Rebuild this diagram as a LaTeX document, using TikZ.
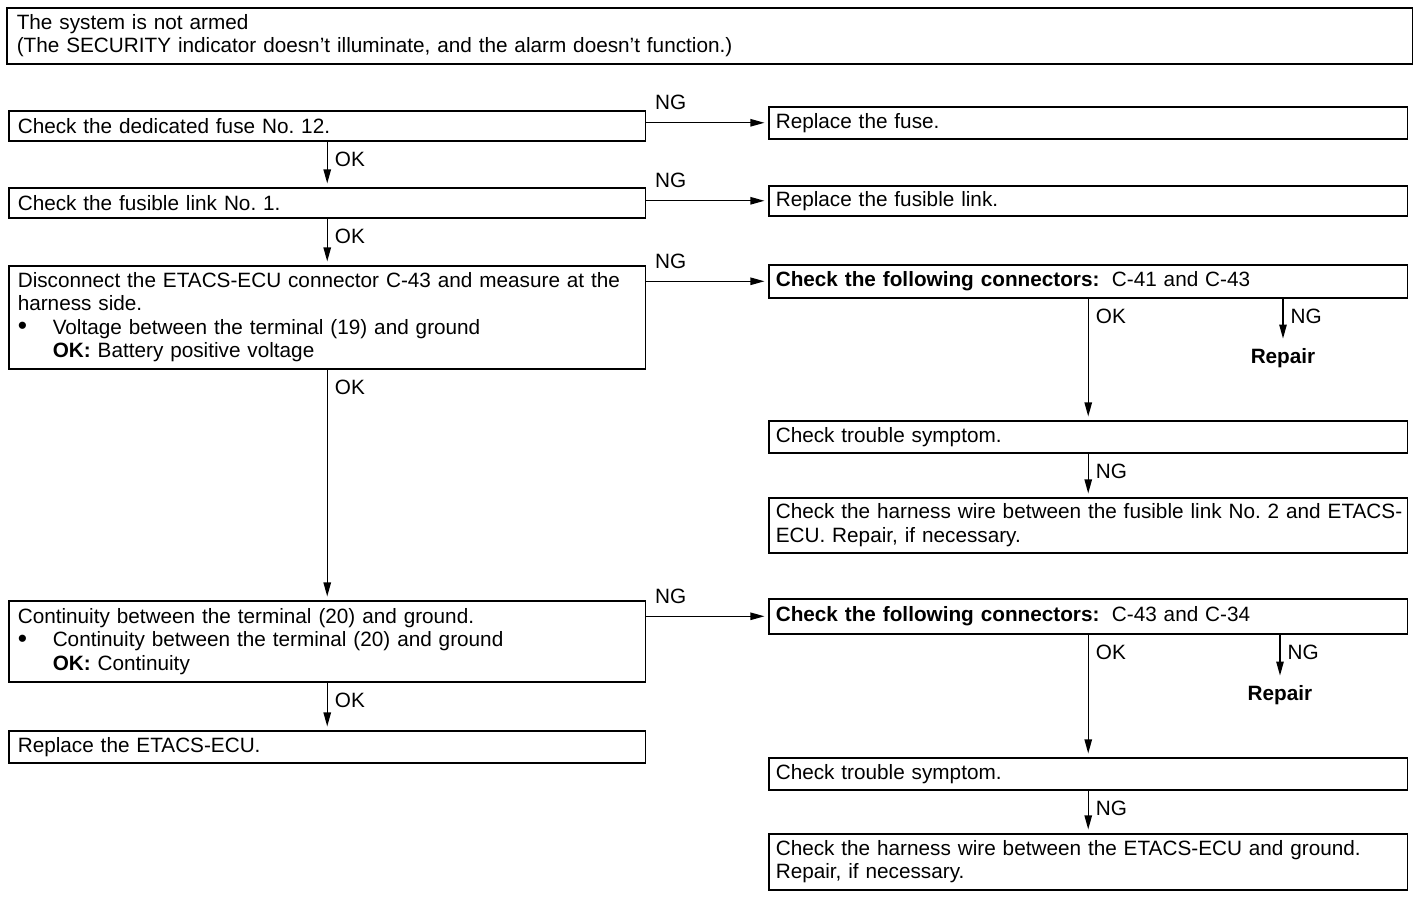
\documentclass[tikz,border=0pt]{standalone}
\usepackage{fontspec}
\setmainfont{Liberation Sans}
\usetikzlibrary{arrows.meta}
\newcommand{\diagfont}{\fontsize{11.8pt}{13.4pt}\selectfont\frenchspacing}
\newcommand{\chkbullet}{\makebox[0.7cm][l]{\raisebox{-0.3pt}{\fontsize{15pt}{13.4pt}\selectfont\textbullet}}}
\newcommand{\chkindent}{\hspace*{0.7cm}}
\tikzstyle{title} = [rectangle, draw=black, line width=0.9pt, text width=27.72cm, inner xsep=0.2cm, inner ysep=0pt, minimum height=1.12cm, align=left, anchor=north west]
\tikzstyle{process} = [rectangle, draw=black, line width=0.9pt, text width=12.38cm, inner xsep=0.18cm, inner ysep=0pt, align=left, anchor=north west]
\tikzstyle{action} = [process, text width=12.5cm, inner xsep=0.14cm]
\tikzstyle{result} = [font=\diagfont\bfseries]
\tikzstyle{arrow} = [line width=0.8pt, -{Triangle[length=8pt,width=4.2pt]}, shorten >=2pt]
\tikzstyle{oklabel} = [pos=0, anchor=north west, inner sep=3pt, xshift=1pt, yshift=-2.5pt]
\tikzstyle{nglabel} = [pos=0, anchor=south west, inner sep=3pt, xshift=1.5pt, yshift=4pt]

\begin{document}
\begin{tikzpicture}[x=0.02cm, y=-0.02cm, font=\diagfont]
\useasboundingbox (0,0) rectangle (1424,898);

\node (start) [title] at (6,7) {The system is not armed\\(The SECURITY indicator doesn't illuminate, and the alarm doesn't function.)};

% left column
\node (pro1) [process, minimum height=0.6cm] at (8,110) {Check the dedicated fuse No. 12.};
\node (pro2) [process, minimum height=0.6cm] at (8,187) {Check the fusible link No. 1.};
\node (pro3) [process, minimum height=2.06cm] at (8,265) {Disconnect the ETACS-ECU connector C-43 and measure at the\\harness side.\\\chkbullet Voltage between the terminal (19) and ground\\\chkindent\textbf{OK:} Battery positive voltage};
\node (pro4) [process, minimum height=1.62cm] at (8,600) {Continuity between the terminal (20) and ground.\\\chkbullet Continuity between the terminal (20) and ground\\\chkindent\textbf{OK:} Continuity};
\node (pro5) [process, minimum height=0.64cm] at (8,730) {Replace the ETACS-ECU.};

% right column
\node (rep1) [action, minimum height=0.64cm] at (768,106) {Replace the fuse.};
\node (rep2) [action, minimum height=0.6cm] at (768,185) {Replace the fusible link.};
\node (chk1) [action, minimum height=0.66cm] at (768,264) {\textbf{Check the following connectors:}\hspace{0.6em}C-41 and C-43};
\node (fix1) [result] at (1283,358) {Repair};
\node (sym1) [action, minimum height=0.64cm] at (768,420) {Check trouble symptom.};
\node (har1) [action, minimum height=1.1cm] at (768,497) {\mbox{Check the harness wire between the fusible link No. 2 and ETACS-}\\ECU. Repair, if necessary.};
\node (chk2) [action, minimum height=0.7cm] at (768,598) {\textbf{Check the following connectors:}\hspace{0.6em}C-43 and C-34};
\node (fix2) [result] at (1280,695) {Repair};
\node (sym2) [action, minimum height=0.64cm] at (768,757) {Check trouble symptom.};
\node (har2) [action, minimum height=1.12cm] at (768,833) {Check the harness wire between the ETACS-ECU and ground.\\Repair, if necessary.};

\draw [arrow] (pro1.south) -- node[oklabel] {OK} (pro2.north);
\draw [arrow] (pro2.south) -- node[oklabel] {OK} (pro3.north);
\draw [arrow] (pro3.south) -- node[oklabel] {OK} (pro4.north);
\draw [arrow] (pro4.south) -- node[oklabel] {OK} (pro5.north);

\draw [arrow] (pro1.east |- rep1.west) -- node[nglabel] {NG} (rep1.west);
\draw [arrow] (pro2.east |- rep2.west) -- node[nglabel] {NG} (rep2.west);
\draw [arrow] (pro3.east |- chk1.west) -- node[nglabel] {NG} (chk1.west);
\draw [arrow] (pro4.east |- chk2.west) -- node[nglabel] {NG} (chk2.west);

\draw [arrow] (chk1.south) -- node[oklabel] {OK} (sym1.north);
\draw [arrow] (chk1.south -| fix1.north) -- node[oklabel] {NG} (fix1.north);
\draw [arrow] (sym1.south) -- node[oklabel] {NG} (har1.north);

\draw [arrow] (chk2.south) -- node[oklabel] {OK} (sym2.north);
\draw [arrow] (chk2.south -| fix2.north) -- node[oklabel] {NG} (fix2.north);
\draw [arrow] (sym2.south) -- node[oklabel] {NG} (har2.north);

\end{tikzpicture}
\end{document}
